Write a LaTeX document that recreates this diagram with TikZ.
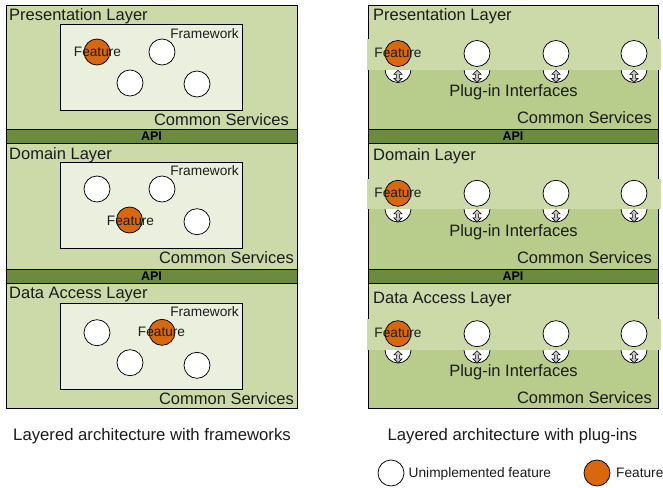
\documentclass[tikz,border=0pt]{standalone}
\usepackage{fontspec}
\setmainfont{Liberation Sans}
\definecolor{layergreen}{HTML}{CCDAAA}
\definecolor{plugdark}{HTML}{B8CC8B}
\definecolor{fwfill}{HTML}{EBF0DE}
\definecolor{apigreen}{HTML}{6C8B3C}
\definecolor{featorange}{HTML}{D9670D}
\definecolor{arrowgray}{HTML}{C4C4C4}
\definecolor{inkcol}{HTML}{1C1C1C}
\newcommand\bigtxt{\fontsize{16.5pt}{19pt}\selectfont}
\newcommand\captxt{\fontsize{16.7pt}{19pt}\selectfont}
\newcommand\smalltxt{\fontsize{13.7pt}{16pt}\selectfont}
\newcommand\apitxt{\fontsize{12.5pt}{14pt}\selectfont\bfseries}
\begin{document}
\begin{tikzpicture}[x=1pt,y=-1pt,
  layerbox/.style={draw=black, line width=0.8pt, fill=layergreen},
  apibar/.style={draw=black, line width=0.8pt, fill=apigreen},
  fwbox/.style={draw=black, line width=0.7pt, fill=fwfill},
  unimpl/.style={circle, draw=black, line width=0.75pt, fill=white, minimum size=26pt, inner sep=0pt},
  featc/.style={unimpl, fill=featorange},
  bigl/.style={font=\bigtxt, text=inkcol, inner sep=0pt},
  capl/.style={font=\captxt, text=inkcol, inner sep=0pt},
  smalll/.style={font=\smalltxt, text=inkcol, inner sep=0pt},
  apil/.style={font=\apitxt, text=black, inner sep=0pt},
  plugarrow/.style={fill=arrowgray, draw=black, line width=0.6pt, line join=miter}]
\useasboundingbox (0,0) rectangle (663,487);
\fill[white] (0,0) rectangle (663,487);

% ---------- left: layers built on frameworks ----------
% presentation layer
\draw[layerbox] (6,5) rectangle (297,129);
\node[bigl, anchor=base west] (lt1) at (9,21) {Presentation Layer};
\draw[fwbox] (60,24) rectangle (242,110);
\node[smalll, anchor=base east] (lfw1) at (239,38.3) {Framework};
\node[featc]  (lc1-1) at (97,52) {};
\node[unimpl] (lc1-2) at (162,52) {};
\node[unimpl] (lc1-3) at (130,83) {};
\node[unimpl] (lc1-4) at (197,84) {};
\node[smalll, anchor=base] (lft1) at (97.5,56.7) {Feature};
\node[bigl, anchor=base east] (lcs1) at (289,125) {Common Services};
\draw[apibar] (6,129) rectangle (297,143);
\node[apil] (lapi1) at (151.5,136) {API};

% domain layer
\draw[layerbox] (6,143) rectangle (297,269);
\node[bigl, anchor=base west] (lt2) at (9,159) {Domain Layer};
\draw[fwbox] (60,162) rectangle (242,248);
\node[smalll, anchor=base east] (lfw2) at (239,175.7) {Framework};
\node[unimpl] (lc2-1) at (97,189) {};
\node[unimpl] (lc2-2) at (162,189) {};
\node[featc]  (lc2-3) at (129.5,220) {};
\node[unimpl] (lc2-4) at (197,221.7) {};
\node[smalll, anchor=base] (lft2) at (130.5,225.7) {Feature};
\node[bigl, anchor=base east] (lcs2) at (294,263.3) {Common Services};
\draw[apibar] (6,269) rectangle (297,283);
\node[apil] (lapi2) at (151.5,276) {API};

% data access layer
\draw[layerbox] (6,283) rectangle (297,408);
\node[bigl, anchor=base west] (lt3) at (9,298.3) {Data Access Layer};
\draw[fwbox] (60,303.5) rectangle (242,389);
\node[smalll, anchor=base east] (lfw3) at (239,316) {Framework};
\node[unimpl] (lc3-1) at (97,332.7) {};
\node[featc]  (lc3-2) at (162,332.3) {};
\node[unimpl] (lc3-3) at (130,362.7) {};
\node[unimpl] (lc3-4) at (197,365.3) {};
\node[smalll, anchor=base] (lft3) at (161.5,336.7) {Feature};
\node[bigl, anchor=base east] (lcs3) at (294,404) {Common Services};

% ---------- right: layers with plug-in interfaces ----------
\foreach \i/\T/\B/\bt/\bb/\cy/\ty/\py/\csy/\ttl in {
  1/5/129/39/69.5/53.5/21/96.7/123.3/Presentation Layer,
  2/143/269/178.5/209/193.3/160.5/236.7/263.3/Domain Layer,
  3/283/408/319.3/350/333.7/303/376.7/403.3/Data Access Layer}{
  \fill[layergreen] (368,\T) rectangle (658,\bb);
  \fill[plugdark] (368,\bb) rectangle (658,\B);
  \draw[black, line width=0.8pt] (368,\T) rectangle (658,\B);
  % sockets with their two-way arrows
  \foreach \x [count=\k] in {398,477,556,634}{
    \node[unimpl] (rs\i-\k) at (\x,\bb) {};
    \draw[plugarrow, shift={(rs\i-\k.center)}]
      (0,0.8) -- (4.1,4.8) -- (1.6,4.8) -- (1.6,8.8) -- (4.1,8.8) -- (0,12.8)
      -- (-4.1,8.8) -- (-1.6,8.8) -- (-1.6,4.8) -- (-4.1,4.8) -- cycle;
  }
  % plug band holding the features
  \fill[layergreen] (367,\bt) rectangle (661,\bb);
  \node[featc] (rf\i-1) at (398,\cy) {};
  \foreach \x [count=\k from 2] in {477,556,634}
    \node[unimpl] (rf\i-\k) at (\x,\cy) {};
  \node[smalll, anchor=base] (rft\i) at (398,\cy+4.2) {Feature};
  \node[bigl, anchor=base west] (rt\i) at (373,\ty) {\ttl};
  \node[bigl, anchor=base] (rpi\i) at (513.5,\py) {Plug-in Interfaces};
  \node[bigl, anchor=base east] (rcs\i) at (652,\csy) {Common Services};
}
\draw[apibar] (368,129) rectangle (658,143);
\node[apil] (rapi1) at (513,136) {API};
\draw[apibar] (368,269) rectangle (658,283);
\node[apil] (rapi2) at (513,276) {API};

% ---------- captions and legend ----------
\node[capl, anchor=base] (capl) at (152,440.7) {Layered architecture with frameworks};
\node[capl, anchor=base] (capr) at (512.5,440.7) {Layered architecture with plug-ins};
\node[unimpl] (legu) at (391,473) {};
\node[smalll, anchor=base west] (legut) at (408.5,477.3) {Unimplemented feature};
\node[featc] (legf) at (597,473) {};
\node[smalll, anchor=base west] (legft) at (616,477.3) {Feature};
\end{tikzpicture}
\end{document}
